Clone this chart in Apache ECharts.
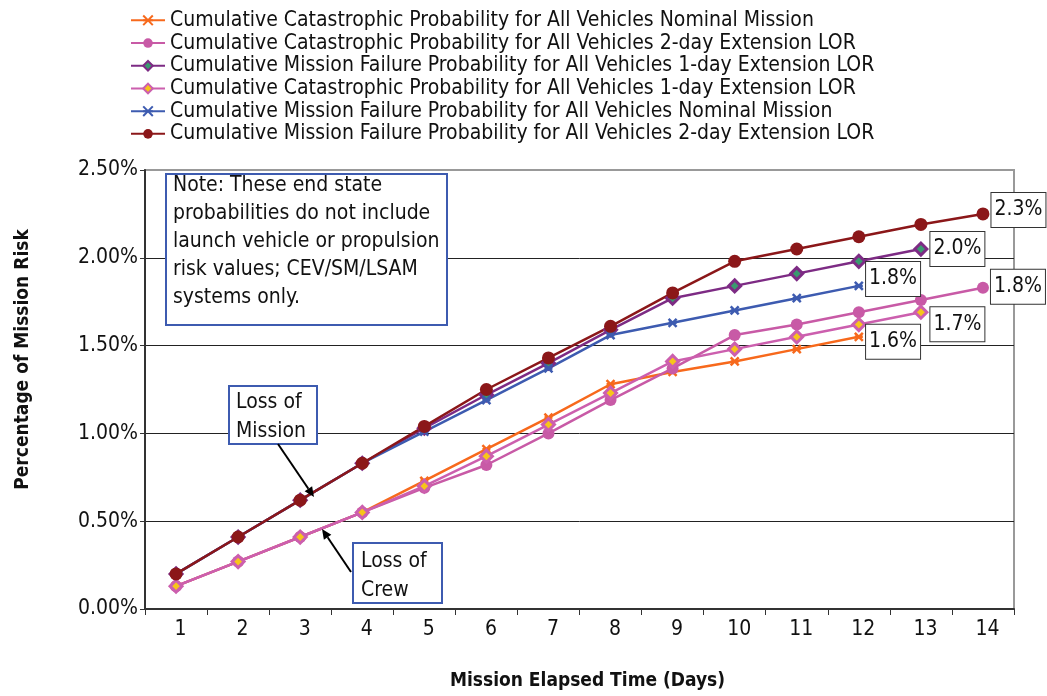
<!DOCTYPE html>
<html>
<head>
<meta charset="utf-8">
<script src="https://cdn.jsdelivr.net/npm/echarts@6/dist/echarts.min.js"></script>
<style>
html,body{margin:0;padding:0;background:#fff;}
#chart{width:1047px;height:696px;}
</style>
</head>
<body>
<div id="chart"></div>
<script>
// ---- data ----
const days = ['1','2','3','4','5','6','7','8','9','10','11','12','13','14'];
const yTicks = [0, 0.5, 1.0, 1.5, 2.0, 2.5];
const catNominal = [0.13,0.27,0.41,0.55,0.73,0.91,1.09,1.28,1.35,1.41,1.48,1.55];
const cat2day    = [0.13,0.27,0.41,0.55,0.69,0.82,1.00,1.19,1.37,1.56,1.62,1.69,1.76,1.83];
const mf1day     = [0.20,0.41,0.62,0.83,1.03,1.22,1.40,1.59,1.77,1.84,1.91,1.98,2.05];
const cat1day    = [0.13,0.27,0.41,0.55,0.70,0.87,1.05,1.23,1.41,1.48,1.55,1.62,1.69];
const mfNominal  = [0.20,0.41,0.62,0.83,1.01,1.19,1.37,1.56,1.63,1.70,1.77,1.84];
const mf2day     = [0.20,0.41,0.62,0.83,1.04,1.25,1.43,1.61,1.80,1.98,2.05,2.12,2.19,2.25];
const seriesNames = [
  'Cumulative Catastrophic Probability for All Vehicles Nominal Mission',
  'Cumulative Catastrophic Probability for All Vehicles 2-day Extension LOR',
  'Cumulative Mission Failure Probability for All Vehicles 1-day Extension LOR',
  'Cumulative Catastrophic Probability for All Vehicles 1-day Extension LOR',
  'Cumulative Mission Failure Probability for All Vehicles Nominal Mission',
  'Cumulative Mission Failure Probability for All Vehicles 2-day Extension LOR'
];
const endLabels = ['1.6%','1.8%','2.0%','1.7%','1.8%','2.3%'];
const noteText = 'Note: These end state\nprobabilities do not include\nlaunch vehicle or propulsion\nrisk values; CEV/SM/LSAM\nsystems only.';
const lomText = 'Loss of\nMission';
const locText = 'Loss of\nCrew';

// ---- styling ----
const FONT = "'Liberation Sans Narrow','Arial Narrow','DejaVu Sans Condensed',sans-serif";
const FS = 21;
const starPath = 'path://M0,0L10,10M10,0L0,10M0,5L10,5';

function withEndLabel(arr, text, offset) {
  return arr.map((v, i) => {
    if (i !== arr.length - 1) return v;
    return {
      value: v,
      label: {
        show: true, position: 'right', distance: 2, offset: offset,
        formatter: text, fontFamily: FONT, fontSize: FS, color: '#111',
        backgroundColor: '#fff', borderColor: '#333', borderWidth: 1,
        padding: [4, 3, 4, 3], lineHeight: 26
      }
    };
  });
}

function mkSeries(name, data, lineColor, symbol, size, fill, border, bw, label, offset) {
  return {
    name: name, type: 'line', data: withEndLabel(data, label, offset),
    symbol: symbol, symbolSize: size, showSymbol: true,
    lineStyle: { color: lineColor, width: 2.5 },
    itemStyle: { color: fill, borderColor: border, borderWidth: bw },
    emphasis: { disabled: true },
    animation: false
  };
}

const series = [
  mkSeries(seriesNames[0], catNominal, '#f7691c', starPath, 8, '#f7691c', '#f7691c', 2.5, endLabels[0], [0, 5]),
  mkSeries(seriesNames[1], cat2day, '#c85aa6', 'circle', 12, '#c85aa6', '#c85aa6', 0, endLabels[1], [0, -1]),
  mkSeries(seriesNames[2], mf1day, '#7d2b84', 'diamond', 12, '#3a9a70', '#7d2b84', 3, endLabels[2], [0, 0]),
  mkSeries(seriesNames[3], cat1day, '#cc5fae', 'diamond', 12, '#f7c51a', '#cc5fae', 3, endLabels[3], [0, 12]),
  mkSeries(seriesNames[4], mfNominal, '#3d5bb0', starPath, 8, '#3d5bb0', '#3d5bb0', 2.5, endLabels[4], [0, -7]),
  mkSeries(seriesNames[5], mf2day, '#8b1719', 'circle', 13, '#8b1719', '#8b1719', 0, endLabels[5], [0, -4])
];

function arrow(x1, y1, x2, y2) {
  const ang = Math.atan2(y2 - y1, x2 - x1);
  const L = 10, W = 4.5;
  const bx = x2 - L * Math.cos(ang), by = y2 - L * Math.sin(ang);
  const px = -Math.sin(ang) * W, py = Math.cos(ang) * W;
  return [
    { type: 'line', shape: { x1: x1, y1: y1, x2: bx, y2: by }, style: { stroke: '#000', lineWidth: 2 }, z: 100 },
    { type: 'polygon', shape: { points: [[x2, y2], [bx + px, by + py], [bx - px, by - py]] }, style: { fill: '#000' }, z: 100 }
  ];
}

function box(x, y, w, h, text, tx, ty, lh) {
  return [
    { type: 'rect', shape: { x: x, y: y, width: w, height: h }, style: { fill: '#fff', stroke: '#3d5bb0', lineWidth: 2 }, z: 100 },
    { type: 'text', x: tx, y: ty, style: { text: text, font: FS + 'px ' + FONT, fill: '#111', lineHeight: lh, verticalAlign: 'top' }, z: 101 }
  ];
}

const option = {
  backgroundColor: '#fff',
  animation: false,
  legend: {
    orient: 'vertical', left: 125, top: 4,
    itemWidth: 34, itemHeight: 12, itemGap: 0,
    textStyle: { fontFamily: FONT, fontSize: FS, color: '#111', lineHeight: 22.7 },
    data: seriesNames
  },
  grid: { left: 145, right: 33, top: 170, bottom: 84, show: true, borderColor: '#999', borderWidth: 2, backgroundColor: 'transparent' },
  xAxis: {
    type: 'category', data: days, boundaryGap: true,
    name: 'Mission Elapsed Time (Days)', nameLocation: 'middle', nameGap: 63,
    nameTextStyle: { fontFamily: FONT, fontSize: 19, fontWeight: 'bold', color: '#111', padding: [0, 0, 0, 16] },
    axisLine: { lineStyle: { color: '#333', width: 2 } },
    axisTick: { show: true, length: 6, lineStyle: { color: '#333', width: 1 } },
    axisLabel: { fontFamily: FONT, fontSize: FS, color: '#111', margin: 10, padding: [0, 0, 0, 9] },
    splitLine: { show: false }
  },
  yAxis: {
    type: 'value', min: yTicks[0], max: yTicks[yTicks.length - 1], interval: 0.5,
    name: 'Percentage of Mission Risk', nameLocation: 'middle', nameGap: 112,
    nameTextStyle: { fontFamily: FONT, fontSize: 19, fontWeight: 'bold', color: '#111', padding: [0, 0, 0, 60] },
    axisLine: { show: true, lineStyle: { color: '#333', width: 2 } },
    axisTick: { show: true, length: 5, lineStyle: { color: '#333' } },
    axisLabel: { fontFamily: FONT, fontSize: FS, color: '#111', margin: 7, formatter: v => v.toFixed(2) + '%' },
    splitLine: { show: true, lineStyle: { color: ['#222', '#222', '#222', '#222', '#222', '#999'], width: 1 } }
  },
  series: series,
  graphic: [].concat(
    box(166, 174, 281, 151, noteText, 173, 172, 28),
    box(229, 386, 88, 58, lomText, 236, 388, 29),
    box(353, 543, 89, 60, locText, 361, 547, 29),
    arrow(278, 444, 314, 497),
    arrow(351, 572, 322, 529)
  )
};

const chart = echarts.init(document.getElementById('chart'), null, { renderer: 'canvas' });
chart.setOption(option);
</script>
</body>
</html>
